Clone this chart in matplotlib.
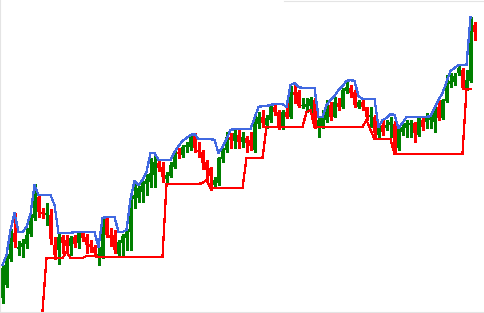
import numpy as np
import matplotlib
matplotlib.use("Agg")
import matplotlib.pyplot as plt
from matplotlib.lines import Line2D

nan = np.nan

# OHLC per bar (price points)
open_ = [15, 28, 54, 80, 64, 66, 69, 79, 95, 116,
         101, 98, 98, 68, 63, 76, 73, 67, 76, 70,
         80, 76, 69, 66, 56, 56, 94, 78, 78, 59,
         70, 75, 81, 114, 115, 121, 129, 131, 138, 150,
         146, 134, 137, 146, 161, 158, 166, 166, 178, 163,
         161, 151, 145, 128, 130, 154, 163, 176, 172, 178,
         171, 175, 173, 163, 189, 196, 188, 193, 206, 201,
         186, 201, 196, 221, 221, 207, 206, 207, 213, 187,
         186, 193, 208, 196, 210, 206, 222, 225, 221, 206,
         211, 206, 196, 196, 178, 188, 185, 188, 189, 165,
         181, 185, 188, 190, 178, 193, 191, 193, 191, 206,
         195, 212, 229, 231, 240, 243, 225, 232, 288]
close = [45, 55, 80, 71, 66, 70, 78, 95, 120, 101,
         99, 100, 74, 58, 76, 70, 67, 75, 69, 80,
         75, 68, 66, 60, 59, 93, 78, 75, 63, 71,
         77, 81, 115, 118, 125, 130, 134, 140, 151, 145,
         136, 138, 148, 160, 159, 166, 168, 177, 165, 161,
         150, 143, 137, 133, 155, 163, 176, 173, 180, 171,
         176, 170, 167, 195, 196, 190, 195, 206, 201, 186,
         201, 196, 225, 218, 207, 208, 209, 214, 195, 193,
         195, 206, 196, 211, 206, 223, 226, 220, 208, 211,
         206, 196, 198, 180, 188, 181, 188, 191, 165, 184,
         186, 190, 190, 180, 195, 186, 195, 196, 203, 195,
         213, 230, 232, 237, 245, 225, 233, 288, 281]
high = [48, 59, 84, 100, 72, 74, 85, 99, 129, 119,
        105, 110, 104, 76, 79, 78, 78, 77, 78, 82,
        82, 79, 73, 68, 66, 96, 97, 85, 83, 73,
        79, 84, 117, 131, 127, 132, 139, 155, 158, 153,
        151, 141, 151, 162, 165, 168, 171, 178, 180, 171,
        163, 153, 146, 136, 156, 165, 181, 180, 183, 183,
        181, 177, 181, 198, 201, 203, 198, 208, 208, 203,
        203, 211, 227, 230, 223, 215, 215, 216, 215, 195,
        203, 213, 211, 216, 215, 225, 231, 228, 223, 213,
        213, 206, 206, 198, 190, 193, 193, 196, 192, 188,
        190, 193, 193, 191, 197, 195, 200, 200, 206, 213,
        214, 238, 240, 240, 248, 245, 243, 296, 291]
low = [10, 26, 52, 66, 58, 56, 65, 77, 93, 96,
       95, 88, 69, 54, 49, 60, 60, 58, 66, 65,
       72, 60, 61, 57, 48, 55, 76, 67, 60, 57,
       57, 63, 63, 105, 111, 111, 118, 126, 126, 142,
       131, 130, 136, 145, 155, 156, 161, 163, 161, 156,
       144, 131, 123, 125, 128, 151, 161, 165, 165, 165,
       166, 161, 163, 161, 185, 186, 185, 191, 198, 184,
       184, 195, 195, 210, 206, 205, 201, 201, 185, 176,
       185, 191, 193, 196, 203, 205, 220, 216, 206, 205,
       203, 193, 186, 176, 176, 178, 183, 176, 160, 163,
       178, 176, 176, 171, 177, 183, 185, 185, 181, 193,
       194, 211, 226, 228, 238, 224, 223, 231, 273]

# channel lines
upper = [48, 58, 83, 100, 81, 81, 86, 99, 128, 118,
         118, 118, 118, 108, 80, 80, 80, 80, 81, 81,
         81, 81, 81, 81, 66, 95, 96, 96, 96, 81,
         81, 83, 114, 132, 128, 133, 141, 160, 160, 153,
         153, 153, 153, 161, 167, 172, 175, 178, 179, 174,
         174, 174, 174, 173, 160, 166, 174, 183, 184, 184,
         184, 184, 184, 195, 206, 207, 207, 208, 209, 209,
         209, 206, 228, 230, 226, 225, 225, 225, 225, 196,
         196, 208, 213, 217, 223, 227, 232, 233, 232, 217,
         214, 214, 214, 214, 186, 193, 195, 199, 198, 185,
         190, 196, 196, 196, 196, 196, 196, 197, 205, 213,
         220, 231, 242, 245, 248, 248, 248, 296, nan]
lower = [nan, nan, nan, nan, nan, nan, nan, nan, nan, nan,
         2, 55, 55, 55, 55, 55, 61, 55, 55, 55,
         55, 57, 57, 57, 56, 56, 56, 56, 56, 56,
         56, 56, 56, 56, 56, 56, 56, 56, 56, 56,
         56, 129, 129, 129, 129, 129, 129, 129, 129, 129,
         130, 133, 125, 125, 125, 125, 125, 125, 125, 125,
         125, 155, 155, 155, 155, 155, 186, 186, 186, 186,
         186, 186, 186, 186, 186, 186, 201, 203, 186, 186,
         186, 186, 186, 186, 186, 186, 186, 186, 186, 186,
         186, 193, 183, 174, 174, 174, 174, 174, 159, 159,
         159, 159, 159, 159, 159, 159, 159, 159, 159, 159,
         159, 159, 159, 159, 159, 159, 224, 224, nan]

o = np.array(open_, float)
c = np.array(close, float)
h = np.array(high, float)
l = np.array(low, float)
x = np.arange(len(o))

fig = plt.figure(figsize=(4.84, 3.13), dpi=100)
ax = fig.add_axes([0, 0, 1, 1])
ax.set_xlim(-0.625, 120.375)
ax.set_ylim(0, 313)
ax.axis('off')

cols = np.where(c >= o, '#008000', '#ff0000')
ax.vlines(x, l, h, colors=cols, linewidth=0.75, antialiased=False)
body = np.maximum(np.abs(c - o), 1.2)
ax.bar(x, body, bottom=np.minimum(o, c), width=0.75, color=cols,
       linewidth=0, antialiased=False)

ax.plot(x, upper, color='#4169e1', lw=0.9, antialiased=False)
ax.plot(x, lower, color='#ff0000', lw=0.9, antialiased=False)

# faint frame bits of the screenshot
for xs, ys in [([0.001, 0.001], [0, 1]), ([0, 1], [0.003, 0.003]), ([0.587, 1], [0.998, 0.998])]:
    fig.add_artist(Line2D(xs, ys, color='#e4e4e4', lw=0.8, transform=fig.transFigure))

fig.savefig('out.png', dpi=100)
